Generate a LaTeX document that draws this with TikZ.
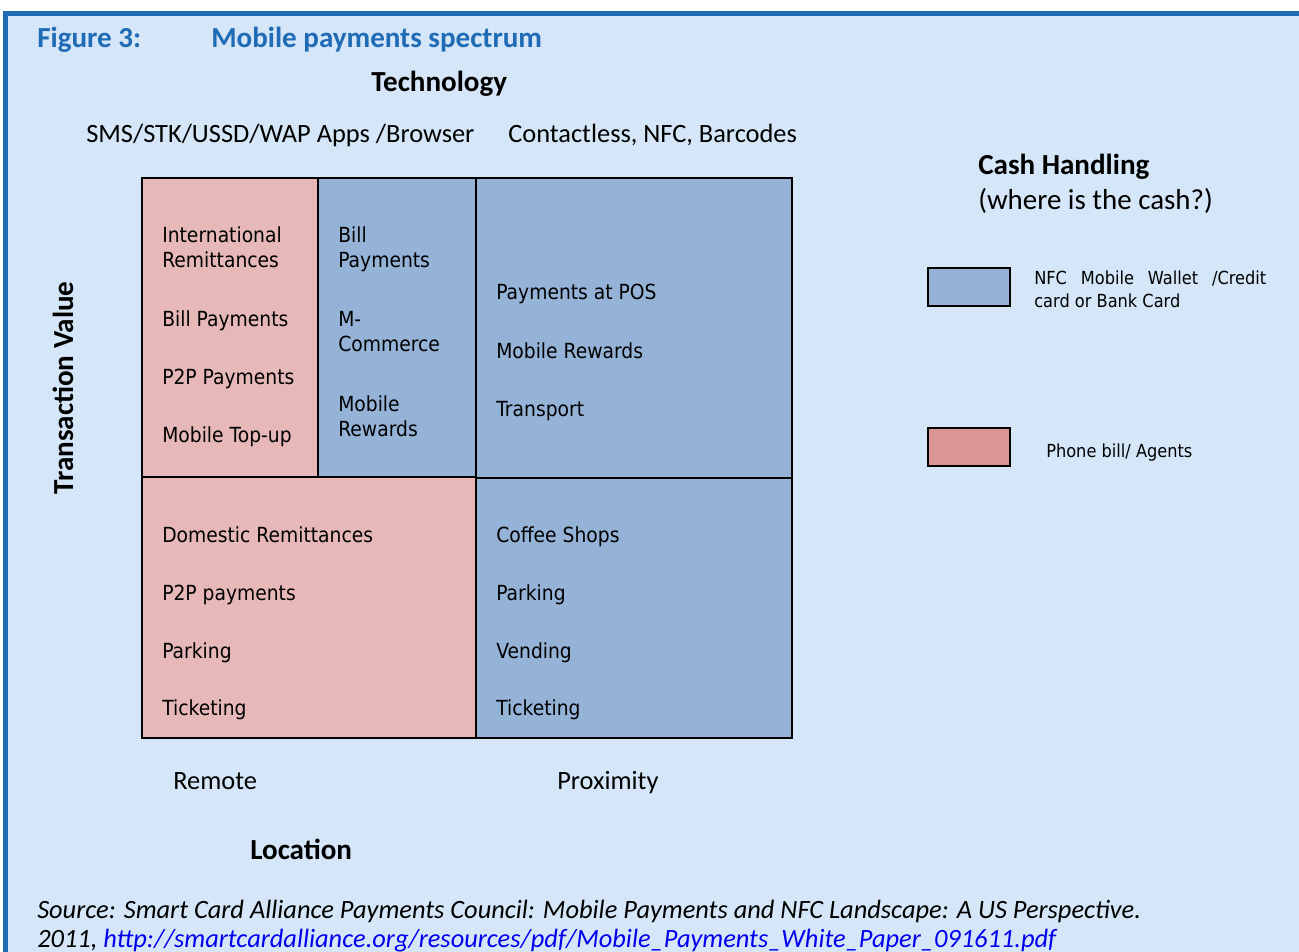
\documentclass[tikz,border=0pt]{standalone}
\usepackage{fontspec}
\setmainfont{Carlito}
\newfontfamily\cellfont[FakeStretch=0.9]{DejaVu Sans}
\usetikzlibrary{positioning}

\definecolor{panelbg}{RGB}{212,230,247}
\definecolor{framecol}{RGB}{30,108,180}
\definecolor{titleblue}{RGB}{31,107,181}
\definecolor{cellred}{RGB}{230,185,184}
\definecolor{cellblue}{RGB}{149,179,215}
\definecolor{keyred}{RGB}{218,150,148}
\definecolor{linkblue}{RGB}{0,0,238}

\tikzset{
  cellline/.style={line width=1.5pt, draw=black},
  celltext/.style={anchor=base west, inner sep=0pt, font=\cellfont\fontsize{15.6}{18.7}\selectfont},
  keytext/.style={anchor=base west, inner sep=0pt, font=\cellfont\fontsize{13.5}{17}\selectfont},
  heading/.style={anchor=base west, inner sep=0pt, font=\bfseries\fontsize{21.8}{26}\selectfont},
  plain/.style={anchor=base west, inner sep=0pt, font=\fontsize{19.8}{24}\selectfont},
  srctext/.style={anchor=base west, inner sep=0pt, font=\itshape\fontsize{19.8}{24}\selectfont}
}

\begin{document}
\begin{tikzpicture}[x=0.75pt,y=-0.75pt]
    \useasboundingbox (0,0) rectangle (1299,952);
    \clip (0,0) rectangle (1299,952);
    \draw[line width=3.75pt, draw=framecol, fill=panelbg] (5.5,13.5) rectangle (1330,990);

    % title
    \node[heading, text=titleblue] (fig) at (37,48) {Figure 3:};
    \node[heading, text=titleblue] (title) at (211,48) {Mobile payments spectrum};
    \node[heading] (tech) at (371,92) {Technology};
    \node[plain] (remotetech) at (86,143) {SMS/STK/USSD/WAP Apps /Browser};
    \node[plain] (proxtech) at (508,143) {Contactless, NFC, Barcodes};

    % cells
    \draw[cellline, fill=cellred] (142,178) rectangle (318,477);
    \draw[cellline, fill=cellblue] (318,178) rectangle (476,477);
    \draw[cellline, fill=cellblue] (476,178) rectangle (792,478);
    \draw[cellline, fill=cellred] (142,477) rectangle (476,738);
    \draw[cellline, fill=cellblue] (476,478) rectangle (792,738);

    % top left
    \foreach \y/\t [count=\i] in {243/International, 268/Remittances, 326/Bill Payments,
        384/P2P Payments, 442/Mobile Top-up}
        \node[celltext] (tl\i) at (162,\y) {\t};
    % top middle
    \foreach \y/\t [count=\i] in {243/Bill, 268/Payments, 326/M-, 351/Commerce,
        411/Mobile, 436/Rewards}
        \node[celltext] (tm\i) at (338,\y) {\t};
    % top right
    \foreach \y/\t [count=\i] in {300/Payments at POS, 358/Mobile Rewards, 416/Transport}
        \node[celltext] (tr\i) at (496,\y) {\t};
    % bottom left
    \foreach \y/\t [count=\i] in {542/Domestic Remittances, 600/P2P payments,
        658/Parking, 715/Ticketing}
        \node[celltext] (bl\i) at (162,\y) {\t};
    % bottom right
    \foreach \y/\t [count=\i] in {542/Coffee Shops, 600/Parking, 658/Vending, 715/Ticketing}
        \node[celltext] (br\i) at (496,\y) {\t};

    % axes
    \node[heading, anchor=base, rotate=90] (value) at (73,388) {Transaction Value};
    \node[plain] (remote) at (173,789) {Remote};
    \node[plain] (prox) at (557,789) {Proximity};
    \node[heading] (loc) at (250,859) {Location};

    % legend
    \node[heading] (cash) at (978,175) {Cash Handling};
    \node[plain, font=\fontsize{21.7}{26}\selectfont] (where) at (978,210) {(where is the cash?)};
    \draw[cellline, fill=cellblue] (928,268) rectangle (1010,306);
    \node[keytext] (key1a) at (1034,285) {\makebox[174pt][s]{NFC Mobile Wallet /Credit}};
    \node[keytext] (key1b) at (1034,307) {card or Bank Card};
    \draw[cellline, fill=keyred] (928,428) rectangle (1010,466);
    \node[keytext] (key2) at (1046,457) {Phone bill/ Agents};

    % source
    \node[srctext] (src1) at (37,918) {Source: Smart Card Alliance Payments Council: Mobile Payments and NFC Landscape: A US Perspective.};
    \node[srctext] (src2) at (37,947) {2011, \textcolor{linkblue}{http://smartcardalliance.org/resources/pdf/Mobile\_Payments\_White\_Paper\_091611.pdf}};
\end{tikzpicture}
\end{document}
